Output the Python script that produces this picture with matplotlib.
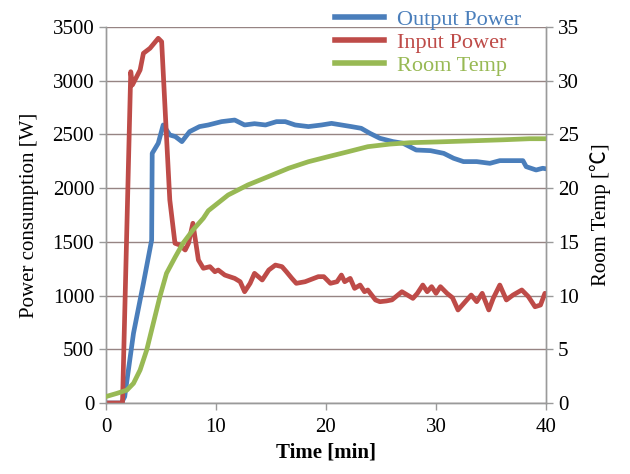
import matplotlib
matplotlib.use("Agg")
import matplotlib.pyplot as plt
from matplotlib.lines import Line2D

# ---- data ----
t_in = [0, 1.5, 2.25, 2.4, 3.1, 3.4, 4.0, 4.75, 5.06, 5.5, 5.8, 6.27, 6.7, 7.2, 7.5, 7.9, 8.4, 8.85,
        9.45, 9.9, 10.2, 10.8, 11.7, 12.2, 12.6, 13.1, 13.5, 14.2, 14.8, 15.4, 16.0, 16.4, 16.9, 17.3,
        18.1, 19.3, 19.8, 20.4, 21.0, 21.4, 21.7, 22.2, 22.6, 23.1, 23.5, 23.8, 24.5, 24.9, 25.5, 26.0,
        26.9, 27.9, 28.3, 28.8, 29.2, 29.6, 30.0, 30.4, 31.0, 31.5, 32.0, 32.8, 33.2, 33.7, 34.2, 34.8,
        35.2, 35.8, 36.4, 37.0, 37.8, 38.4, 39.0, 39.5, 39.9, 40]
input_power = [0, 0, 3084, 2960, 3100, 3255, 3302, 3395, 3363, 2480, 1890, 1487, 1471, 1424, 1487, 1673, 1331, 1254,
               1269, 1222, 1238, 1191, 1160, 1129, 1036, 1114, 1207, 1145, 1238, 1284, 1269, 1222, 1160, 1114,
               1129, 1176, 1176, 1114, 1129, 1191, 1129, 1160, 1067, 1098, 1036, 1052, 959, 943, 950, 960,
               1036, 974, 1020, 1098, 1036, 1083, 1021, 1083, 1021, 980, 866, 959, 1005, 943, 1021, 866,
               974, 1098, 959, 1005, 1052, 990, 896, 912, 1021, 1010]

t_out = [0, 1.4, 1.7, 2.5, 3.4, 4.15, 4.2, 4.75, 5.2, 5.8, 6.3, 6.9, 7.6, 8.5, 9.3, 10.5, 11.7, 12.6, 13.5,
         14.5, 15.5, 16.3, 17.2, 18.4, 19.6, 20.5, 21.4, 22.3, 23.2, 24.0, 24.9, 26.1, 27.0, 28.2, 29.5,
         30.7, 31.6, 32.5, 33.7, 34.9, 35.8, 37.0, 37.9, 38.2, 39.1, 39.7, 40]
output_power = [0, 0, 59, 649, 1114, 1517, 2324, 2418, 2588, 2495, 2480, 2433, 2526, 2573, 2588, 2619, 2634, 2588, 2600,
                2588, 2619, 2619, 2588, 2573, 2588, 2603, 2588, 2573, 2557, 2510, 2464, 2433, 2418, 2355, 2349,
                2324, 2278, 2247, 2247, 2231, 2256, 2256, 2256, 2200, 2169, 2185, 2180]

t_temp = [0, 1.0, 1.9, 2.5, 3.1, 3.7, 4.3, 4.9, 5.5, 6.3, 7.0, 7.9, 8.85, 9.3, 11.1, 12.9, 14.75, 16.6,
          18.4, 20.2, 22.0, 23.8, 25.8, 27.6, 30.1, 33.1, 36.1, 38.5, 40]
room_temp = [0.6, 0.9, 1.2, 1.83, 3.07, 4.93, 7.42, 9.9, 12.07, 13.6, 14.87, 16.1, 17.2, 17.9, 19.36, 20.3, 21.07, 21.85,
             22.46, 22.93, 23.39, 23.86, 24.1, 24.23, 24.3, 24.4, 24.5, 24.6, 24.6]

x_ticks = [0, 10, 20, 30, 40]
y_ticks = [0, 500, 1000, 1500, 2000, 2500, 3000, 3500]
y2_ticks = [0, 5, 10, 15, 20, 25, 30, 35]
labels = ["Output Power", "Input Power", "Room Temp"]

BLUE = "#4A7EBB"
RED = "#BE4B48"
GREEN = "#98B954"
GRID = "#968483"
SPINE = "#9A9A9A"

plt.rcParams['font.family'] = ['Liberation Serif', 'DejaVu Serif']
plt.rcParams['font.size'] = 15

fig = plt.figure(figsize=(6.3, 4.74), dpi=100)
ax = fig.add_axes([106/630, 1 - 403/474, 440/630, 376/474])
ax2 = ax.twinx()

lw = 3.4
ax.plot(t_out, output_power, color=BLUE, lw=lw, solid_joinstyle='round', zorder=3)
ax.plot(t_in, input_power, color=RED, lw=lw, solid_joinstyle='round', zorder=4)
ax2.plot(t_temp, room_temp, color=GREEN, lw=lw, solid_joinstyle='round', zorder=3)

ax.set_xlim(0, 40)
ax.set_ylim(0, 3500)
ax2.set_ylim(0, 35)
ax.set_xticks(x_ticks)
ax.set_yticks(y_ticks)
ax2.set_yticks(y2_ticks)

ax.grid(axis='y', color=GRID, lw=1.0)
ax.set_axisbelow(True)

for a in (ax, ax2):
    a.spines['top'].set_visible(False)
    for s in ('left', 'right', 'bottom'):
        a.spines[s].set_color(SPINE)
        a.spines[s].set_linewidth(1.0)
    a.tick_params(colors=SPINE, labelcolor='black', length=5, width=1.0, labelsize=15)
ax.tick_params(axis='x', pad=6)

ax.set_xlabel("Time [min]", fontweight='bold', fontsize=15, labelpad=4)
ax.set_ylabel("Power consumption [W]", fontsize=15, labelpad=10)
ax2.set_ylabel("Room Temp [\u2103]", fontsize=15, labelpad=8)
ax2.yaxis.label.set_family(['Liberation Serif', 'Noto Sans CJK SC', 'DejaVu Sans'])

handles = [Line2D([], [], color=c, lw=4) for c in (BLUE, RED, GREEN)]
leg = fig.legend(handles, labels, loc='upper left', bbox_to_anchor=(315/630, 1 + 11/474),
                 frameon=False, fontsize=16, handlelength=2.2, handletextpad=0.6,
                 labelspacing=0.12)
for txt, c in zip(leg.get_texts(), (BLUE, RED, GREEN)):
    txt.set_color(c)

fig.savefig("out.png", dpi=100)
